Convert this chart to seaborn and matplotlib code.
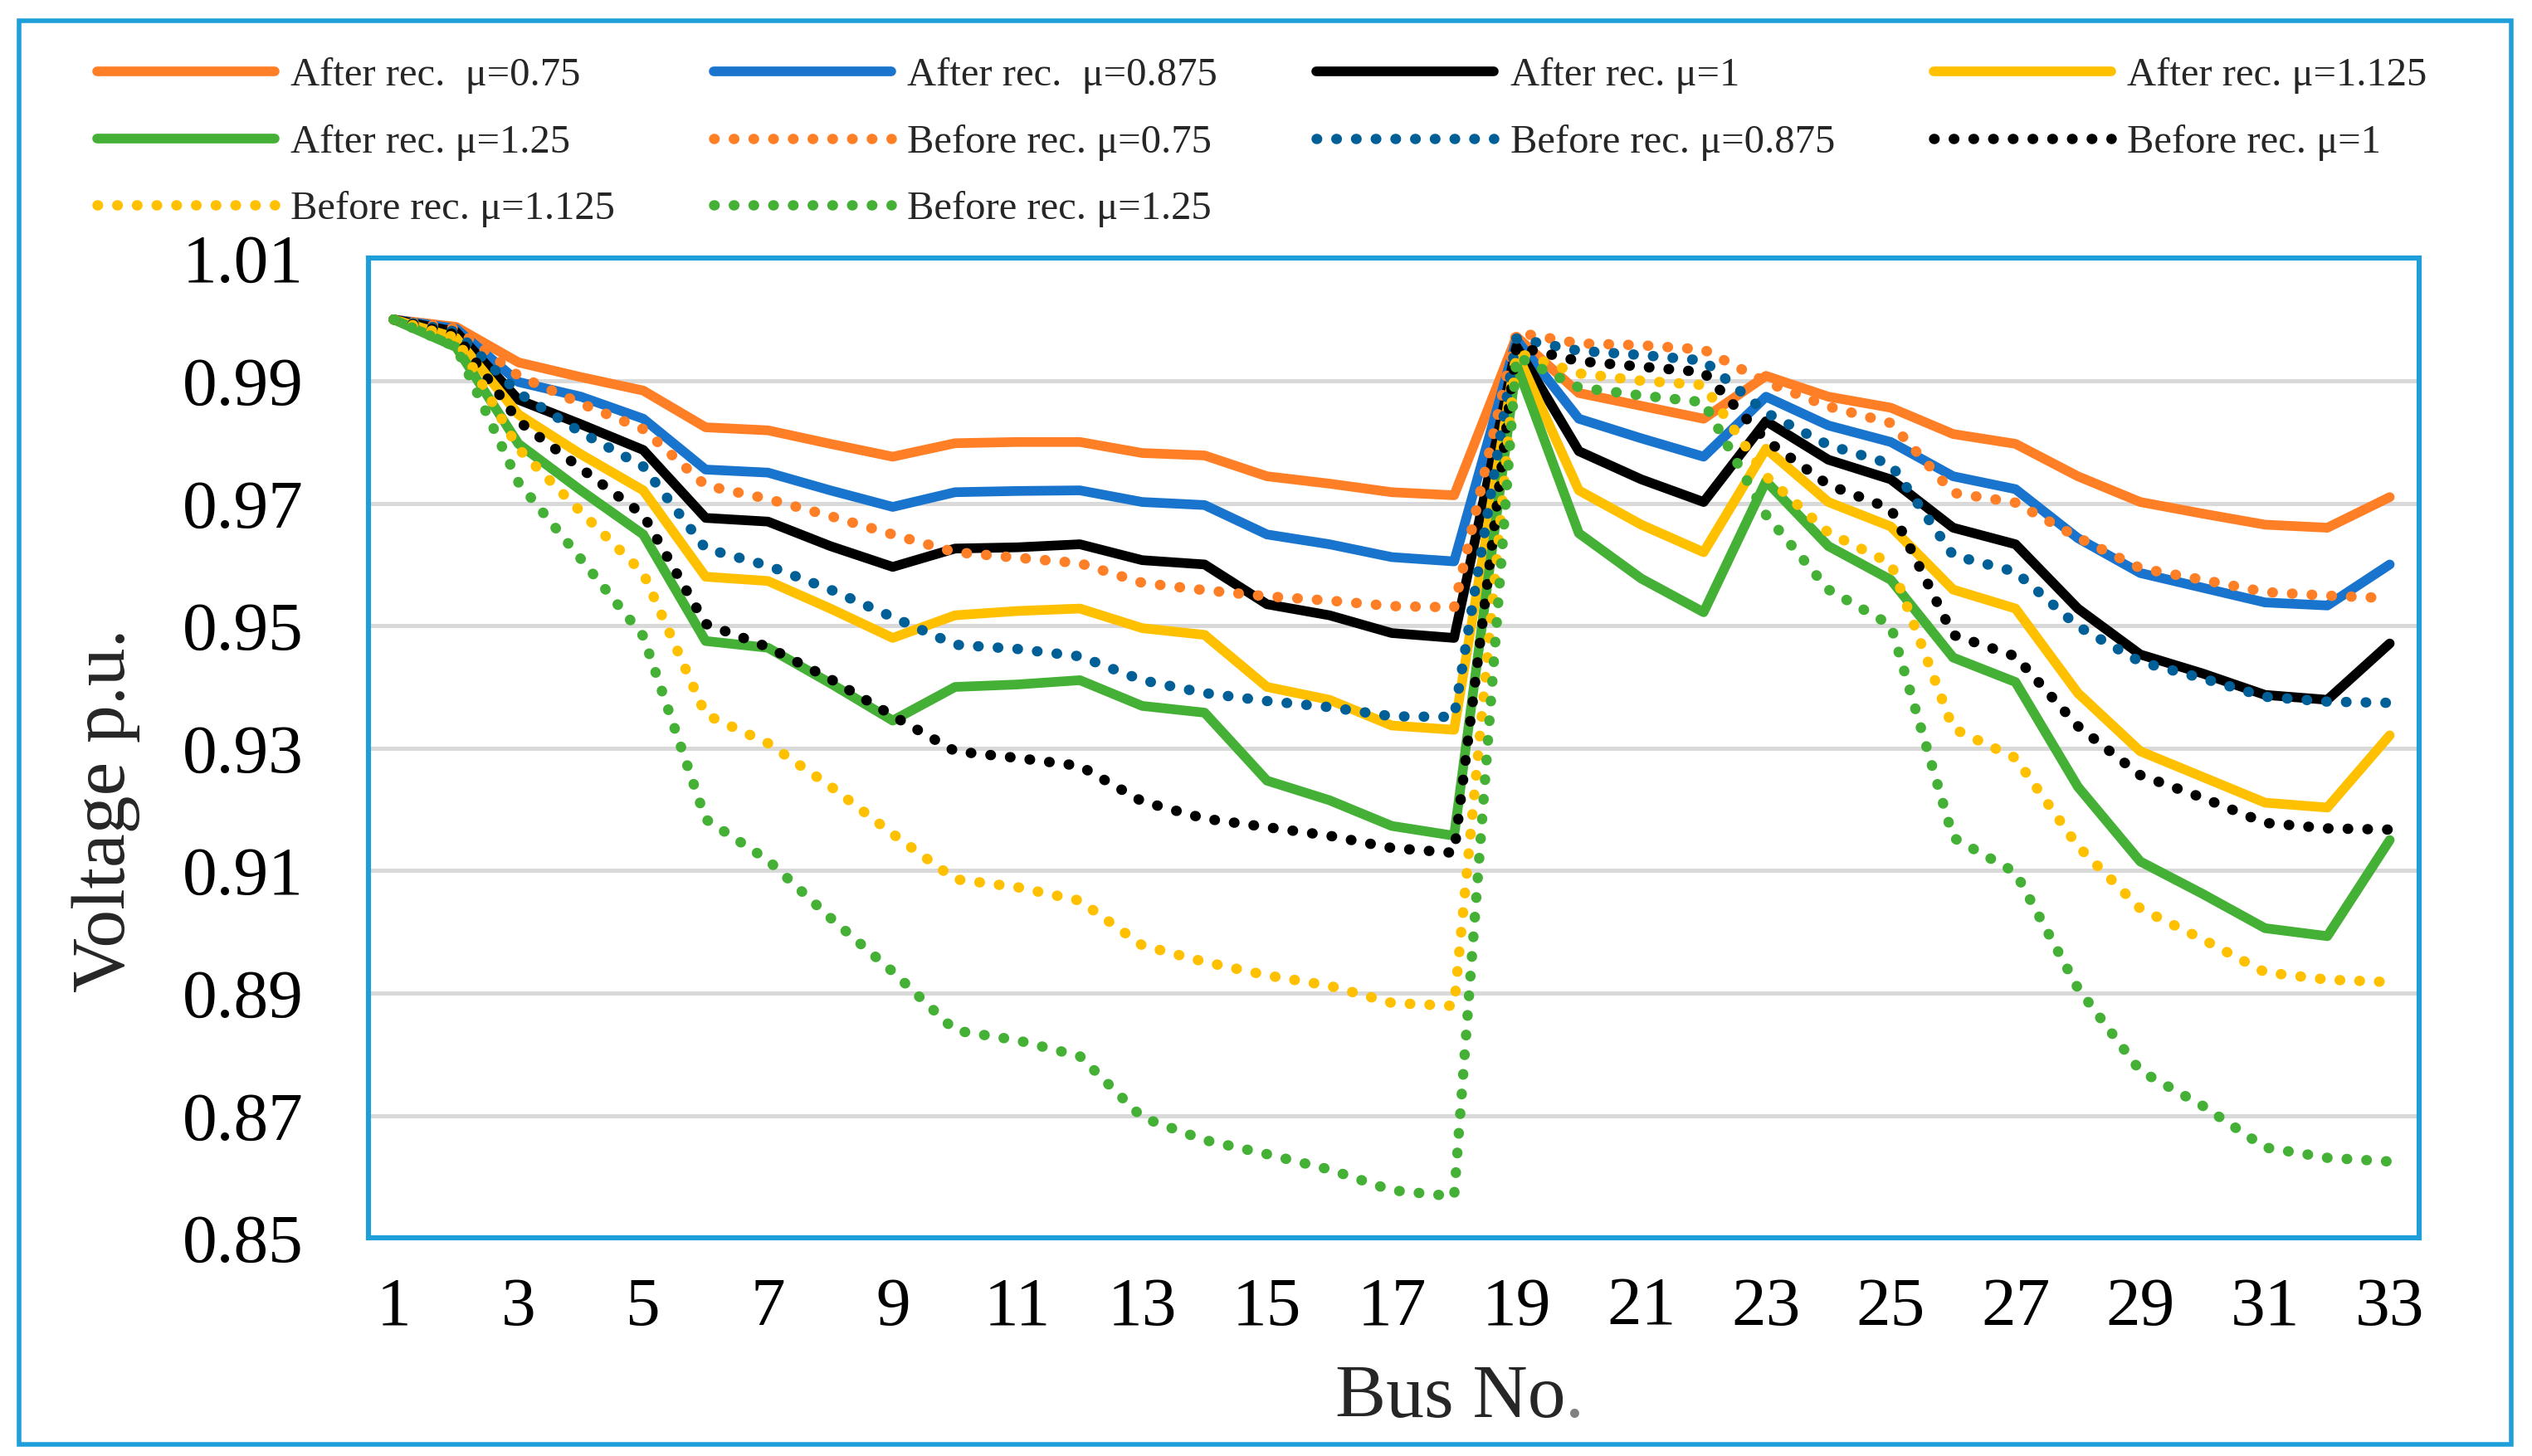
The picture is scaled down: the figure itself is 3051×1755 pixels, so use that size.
import matplotlib
matplotlib.use("Agg")
import matplotlib.pyplot as plt
from matplotlib.patches import Rectangle
import numpy as np
import pandas as pd
import seaborn as sns

sns.set_theme(style="white")
plt.rcParams["font.family"] = ["Liberation Serif", "DejaVu Serif"]

bus = list(range(1, 34))

after_075 = [1.000, 0.9988, 0.9930, 0.9906, 0.9884, 0.9824, 0.9819, 0.9797, 0.9776, 0.9798, 0.9800,
             0.9800, 0.9782, 0.9778, 0.9744, 0.9732, 0.9718, 0.9713, 0.9972, 0.9880, 0.9859, 0.9838,
             0.9908, 0.9874, 0.9856, 0.9813, 0.9797, 0.9744, 0.9702, 0.9683, 0.9665, 0.9660, 0.9710]
after_0875 = [1.000, 0.9985, 0.9898, 0.9874, 0.9838, 0.9755, 0.9750, 0.9721, 0.9694, 0.9718, 0.9720,
              0.9721, 0.9702, 0.9697, 0.9649, 0.9633, 0.9612, 0.9605, 0.9967, 0.9838, 0.9806, 0.9776,
              0.9874, 0.9827, 0.9800, 0.9744, 0.9723, 0.9643, 0.9586, 0.9562, 0.9538, 0.9533, 0.9600]
after_1 = [1.000, 0.9980, 0.9869, 0.9829, 0.9787, 0.9676, 0.9670, 0.9630, 0.9596, 0.9626, 0.9628,
           0.9633, 0.9607, 0.9600, 0.9535, 0.9517, 0.9488, 0.9480, 0.9956, 0.9785, 0.9739, 0.9702,
           0.9834, 0.9771, 0.9739, 0.9660, 0.9633, 0.9528, 0.9453, 0.9422, 0.9387, 0.9379, 0.9471]
after_1125 = [1.000, 0.9970, 0.9845, 0.9780, 0.9721, 0.9580, 0.9573, 0.9528, 0.9480, 0.9517, 0.9524,
              0.9528, 0.9496, 0.9485, 0.9400, 0.9379, 0.9337, 0.9330, 0.9946, 0.9721, 0.9665, 0.9620,
              0.9789, 0.9702, 0.9662, 0.9559, 0.9528, 0.9390, 0.9295, 0.9253, 0.9211, 0.9203, 0.9321]
after_125 = [1.000, 0.9955, 0.9797, 0.9721, 0.9649, 0.9475, 0.9464, 0.9406, 0.9345, 0.9400, 0.9404,
             0.9411, 0.9369, 0.9358, 0.9247, 0.9215, 0.9173, 0.9157, 0.9926, 0.9651, 0.9577, 0.9522,
             0.9736, 0.9630, 0.9575, 0.9448, 0.9408, 0.9237, 0.9115, 0.9062, 0.9006, 0.8993, 0.9150]
before_075 = [1.000, 0.9985, 0.9908, 0.9863, 0.9821, 0.9729, 0.9707, 0.9679, 0.9649, 0.9620, 0.9611,
              0.9602, 0.9570, 0.9558, 0.9548, 0.9541, 0.9532, 0.9530, 0.9979, 0.9961, 0.9958, 0.9951,
              0.9898, 0.9858, 0.9831, 0.9717, 0.9701, 0.9644, 0.9594, 0.9575, 0.9555, 0.9549, 0.9545]
before_0875 = [1.000, 0.9980, 0.9880, 0.9816, 0.9760, 0.9626, 0.9598, 0.9559, 0.9514, 0.9469, 0.9462,
               0.9450, 0.9411, 0.9390, 0.9377, 0.9367, 0.9352, 0.9351, 0.9969, 0.9949, 0.9942, 0.9933,
               0.9848, 0.9795, 0.9764, 0.9615, 0.9588, 0.9499, 0.9441, 0.9414, 0.9384, 0.9376, 0.9374]
before_1 = [1.000, 0.9975, 0.9834, 0.9757, 0.9681, 0.9503, 0.9465, 0.9413, 0.9353, 0.9295, 0.9284,
            0.9271, 0.9213, 0.9185, 0.9171, 0.9157, 0.9137, 0.9129, 0.9956, 0.9932, 0.9923, 0.9914,
            0.9803, 0.9730, 0.9691, 0.9485, 0.9450, 0.9336, 0.9256, 0.9219, 0.9178, 0.9169, 0.9167]
before_1125 = [1.000, 0.9970, 0.9789, 0.9686, 0.9586, 0.9355, 0.9308, 0.9238, 0.9160, 0.9086, 0.9073,
               0.9051, 0.8978, 0.8951, 0.8929, 0.8912, 0.8884, 0.8879, 0.9946, 0.9912, 0.9900, 0.9893,
               0.9744, 0.9652, 0.9602, 0.9332, 0.9284, 0.9140, 0.9038, 0.8988, 0.8934, 0.8922, 0.8918]
before_125 = [1.000, 0.9955, 0.9734, 0.9609, 0.9483, 0.9184, 0.9117, 0.9023, 0.8935, 0.8839, 0.8823,
              0.8797, 0.8697, 0.8660, 0.8637, 0.8612, 0.8578, 0.8568, 0.9940, 0.9889, 0.9876, 0.9865,
              0.9681, 0.9559, 0.9501, 0.9154, 0.9097, 0.8908, 0.8773, 0.8716, 0.8648, 0.8631, 0.8625]

labels = ["After rec.  \u03bc=0.75", "After rec.  \u03bc=0.875", "After rec. \u03bc=1",
          "After rec. \u03bc=1.125", "After rec. \u03bc=1.25",
          "Before rec. \u03bc=0.75", "Before rec. \u03bc=0.875", "Before rec. \u03bc=1",
          "Before rec. \u03bc=1.125", "Before rec. \u03bc=1.25"]
series = [after_075, after_0875, after_1, after_1125, after_125,
          before_075, before_0875, before_1, before_1125, before_125]
colors = ["#FF7F27", "#1874CD", "#000000", "#FFC000", "#44B035",
          "#FF7F27", "#005F96", "#000000", "#FFC000", "#44B035"]

yticks = [0.85, 0.87, 0.89, 0.91, 0.93, 0.95, 0.97, 0.99, 1.01]
xticks = list(range(1, 34, 2))

BORDER = "#1E9FDA"

fig = plt.figure(figsize=(15.255, 8.775), dpi=200)
ax = fig.add_axes([0.1454, 0.1497, 0.8100, 0.6729])

handles = []
for i, (vals, lab, col) in enumerate(zip(series, labels, colors)):
    df = pd.DataFrame({"bus": bus, "v": vals})
    if i < 5:
        sns.lineplot(data=df, x="bus", y="v", ax=ax, color=col, lw=4.2,
                     solid_joinstyle="round", solid_capstyle="round", legend=False, sort=False)
    else:
        sns.lineplot(data=df, x="bus", y="v", ax=ax, color=col, lw=4.5,
                     linestyle=(0, (0.05, 1.85)), dash_capstyle="round",
                     legend=False, sort=False)
    line = ax.lines[-1]
    line.set_label(lab)
    handles.append(line)

ax.set_xlim(0.59, 33.47)
ax.set_ylim(0.85, 1.01)
ax.set_yticks(yticks)
ax.set_yticklabels([f"{t:.2f}" for t in yticks])
ax.set_xticks(xticks)
ax.set_xticklabels([str(t) for t in xticks])
ax.yaxis.grid(True, color="#D9D9D9", lw=1.8)
ax.xaxis.grid(False)
ax.set_axisbelow(True)
ax.tick_params(axis="x", length=0, pad=17, labelsize=30, colors="black")
ax.tick_params(axis="y", length=0, pad=28, labelsize=30, colors="black")
ax.set_xlabel("")
ax.set_ylabel("")
for s in ax.spines.values():
    s.set_visible(True)
    s.set_color(BORDER)
    s.set_linewidth(2.2)

# axis titles
fig.text(0.042, 0.4435, "Voltage p.u.", rotation=90, ha="center", va="center", fontsize=33)
t = fig.text(0.5727, 0.0266, "Bus No", ha="center", va="baseline", fontsize=33)
ax.annotate(".", xy=(1, 0), xycoords=t, ha="left", va="bottom", fontsize=33, color="#808080",
            annotation_clip=False)

# legend in row-major order (4 columns)
order = [0, 4, 8, 1, 5, 9, 2, 6, 3, 7]
fig.legend([handles[k] for k in order], [labels[k] for k in order], ncol=4,
           loc="upper left", bbox_to_anchor=(0.0383, 0.9605), frameon=False,
           fontsize=17.5, handlelength=4.4, handletextpad=0.4, columnspacing=2.45,
           labelspacing=0.75, borderpad=0, borderaxespad=0)

fig.patches.append(Rectangle((0.0077, 0.0078), 0.9840, 0.9778, transform=fig.transFigure,
                             fill=False, edgecolor=BORDER, lw=2.0, zorder=10))

fig.savefig("out.png", dpi=200, facecolor="white")
